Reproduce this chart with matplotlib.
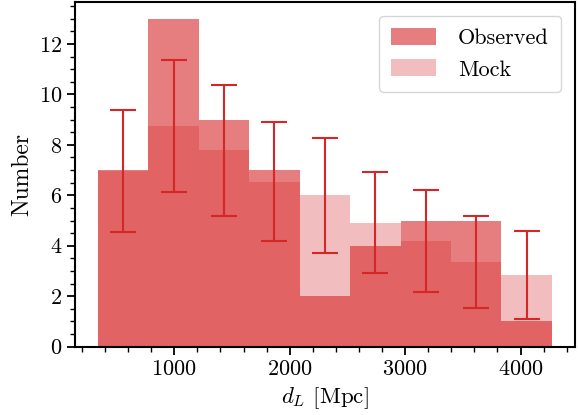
import numpy as np
import matplotlib
matplotlib.use("Agg")
import matplotlib.pyplot as plt
from matplotlib.ticker import MultipleLocator, AutoMinorLocator

plt.rcParams['font.family'] = 'serif'
plt.rcParams['font.serif'] = ['cmr10', 'DejaVu Serif']
plt.rcParams['mathtext.fontset'] = 'cm'
plt.rcParams['axes.formatter.use_mathtext'] = True

# luminosity distance bins [Mpc]
bin_edges = [338, 775, 1212, 1649, 2086, 2523, 2960, 3397, 3834, 4271]
# events per bin
observed = [7, 13, 9, 7, 2, 4, 5, 5, 1]
# mock catalogue: mean counts and scatter
mock_mean = [6.96, 8.76, 7.78, 6.54, 6.01, 4.91, 4.19, 3.36, 2.83]
mock_std = [2.41, 2.62, 2.61, 2.36, 2.28, 2.00, 2.03, 1.83, 1.74]

edges = np.array(bin_edges, dtype=float)
widths = np.diff(edges)
centres = 0.5 * (edges[:-1] + edges[1:])

fig = plt.figure(figsize=(5.78, 4.15), dpi=100)
ax = fig.add_axes([0.13, 0.165, 0.864, 0.829])

ax.bar(edges[:-1], observed, width=widths, align='edge', color='#d62728',
       alpha=0.6, linewidth=0, label='Observed')
ax.bar(edges[:-1], mock_mean, width=widths, align='edge', color='#d62728',
       alpha=0.3, linewidth=0, label='Mock')
ax.errorbar(centres, mock_mean, yerr=mock_std, fmt='none', ecolor='#d62728',
            elinewidth=1.5, capsize=9.5, capthick=1.5)

ax.set_xlabel(r'$d_L$ [Mpc]', fontsize=16.5)
ax.set_ylabel('Number', fontsize=17)

ax.xaxis.set_major_locator(MultipleLocator(1000))
ax.xaxis.set_minor_locator(AutoMinorLocator(5))
ax.yaxis.set_major_locator(MultipleLocator(2))
ax.yaxis.set_minor_locator(AutoMinorLocator(4))
ax.tick_params(which='major', length=6, width=1.3, labelsize=16)
ax.tick_params(which='minor', length=3.5, width=1.0)
for sp in ax.spines.values():
    sp.set_linewidth(1.5)

ax.legend(loc='upper right', fontsize=16, handlelength=2.0, handleheight=0.8,
          labelspacing=0.5, borderpad=0.55, handletextpad=1.0,
          borderaxespad=0.6)

fig.savefig('out.png', dpi=100)
